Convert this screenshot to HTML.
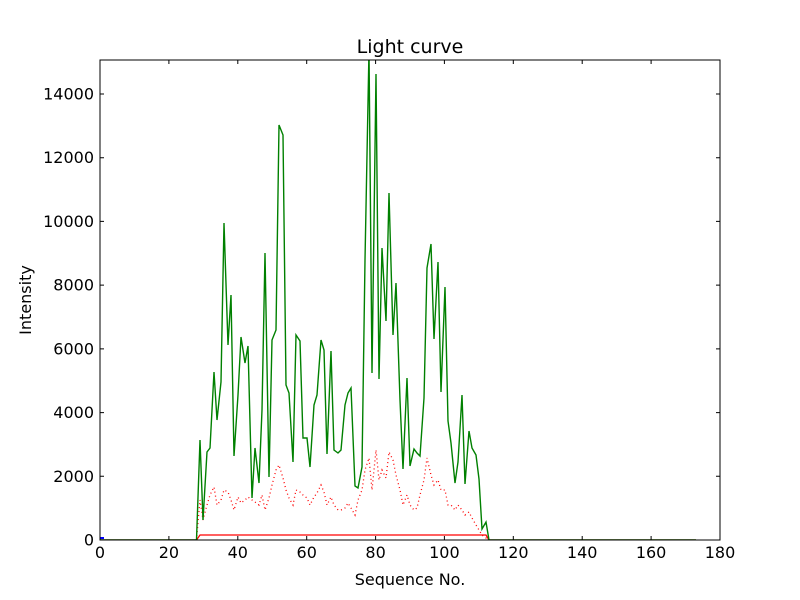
<!DOCTYPE html>
<html><head><meta charset="utf-8"><style>html,body{margin:0;padding:0;background:#fff}svg{display:block}text{font-family:"DejaVu Sans","Liberation Sans",sans-serif;fill:#000}</style></head>
<body>
<svg width="800" height="600" viewBox="0 0 800 600" xmlns="http://www.w3.org/2000/svg">
<rect width="800" height="600" fill="#fff"/>
<defs><clipPath id="c"><rect x="100" y="60" width="620" height="480"/></clipPath></defs>
<g clip-path="url(#c)" fill="none">
<polyline stroke="#0000ff" stroke-width="2" points="100,538 104,538"/>
<polyline stroke="#ff0000" stroke-width="1.3" points="100,540 196.5,540 200,535 486,535 489,540 696,540"/>
<polyline stroke="#ff0000" stroke-width="1.3" stroke-dasharray="1,3" points="196.5,540 200,500 203,520 207,505 210,495 214,487 217,505 221,500 224,490 228,492 231,500 234,510 238,497 241,503 245,500 248,497 252,500 255,502 259,505 262,495 265,510 269,498 272,485 276,470 279,465 283,478 286,490 289,498 293,505 296,490 300,492 303,495 307,498 310,505 314,497 317,493 321,485 324,492 327,505 331,497 334,505 338,510 341,510 345,508 348,503 351,508 355,515 358,500 362,490 365,470 369,458 372,490 376,450 379,480 382,470 386,478 389,452 393,460 396,475 400,490 403,505 407,495 410,505 414,510 417,508 420,495 424,480 427,458 431,475 434,485 438,480 441,490 445,490 448,505 451,505 455,510 458,505 462,510 465,515 469,512 472,518 476,525 479,530 482,535 486,538 489,540"/>
<polyline stroke="#008000" stroke-width="1.4" points="100,540 196.5,540 200,440 203,520 207,452 210,448 214,372 217,420 221,382 224,223 228,345 231,295 234,456 238,395 241,337 245,363 248,346 252,498 255,448 259,483 262,410 265,253 269,477 272,340 276,330 279,125 283,135 286,385 289,393 293,462 296,335 300,341 303,438 307,438 310,467 314,405 317,395 321,340 324,350 327,454 331,351 334,450 338,453 341,450 345,405 348,393 351,388 355,486 358,488 362,467 365,260 369,50 372,373 376,74 379,379 382,248 386,321 389,193 393,335 396,283 400,400 403,469 407,378 410,466 414,449 417,453 420,456 424,398 427,268 431,244 434,339 438,262 441,392 445,287 448,421 451,443 455,483 458,462 462,395 465,484 469,431 472,448 476,455 479,479 482,529 486,522 489,540 696,540"/>
</g>
<rect x="100" y="60" width="620" height="480" fill="none" stroke="#000" stroke-width="1"/>
<g stroke="#000" stroke-width="1">
<path d="M100,540v-4M168.9,540v-4M237.8,540v-4M306.7,540v-4M375.6,540v-4M444.4,540v-4M513.3,540v-4M582.2,540v-4M651.1,540v-4M720,540v-4"/>
<path d="M100,60v4M168.9,60v4M237.8,60v4M306.7,60v4M375.6,60v4M444.4,60v4M513.3,60v4M582.2,60v4M651.1,60v4M720,60v4"/>
<path d="M100,540h4M100,476.3h4M100,412.6h4M100,348.9h4M100,285.1h4M100,221.4h4M100,157.7h4M100,94h4"/>
<path d="M720,540h-4M720,476.3h-4M720,412.6h-4M720,348.9h-4M720,285.1h-4M720,221.4h-4M720,157.7h-4M720,94h-4"/>
</g>
<g font-size="16" text-anchor="middle">
<text x="100" y="558">0</text><text x="168.9" y="558">20</text><text x="237.8" y="558">40</text><text x="306.7" y="558">60</text><text x="375.6" y="558">80</text><text x="444.4" y="558">100</text><text x="513.3" y="558">120</text><text x="582.2" y="558">140</text><text x="651.1" y="558">160</text><text x="720" y="558">180</text>
</g>
<g font-size="16" text-anchor="end">
<text x="94" y="545.5">0</text><text x="94" y="481.8">2000</text><text x="94" y="418.1">4000</text><text x="94" y="354.4">6000</text><text x="94" y="290.6">8000</text><text x="94" y="226.9">10000</text><text x="94" y="163.2">12000</text><text x="94" y="99.5">14000</text>
</g>
<text x="410" y="585" font-size="16" text-anchor="middle">Sequence No.</text>
<text x="31" y="300" font-size="16" text-anchor="middle" transform="rotate(-90 31 300)">Intensity</text>
<text x="410" y="53" font-size="19" text-anchor="middle">Light curve</text>
</svg>
</body></html>
